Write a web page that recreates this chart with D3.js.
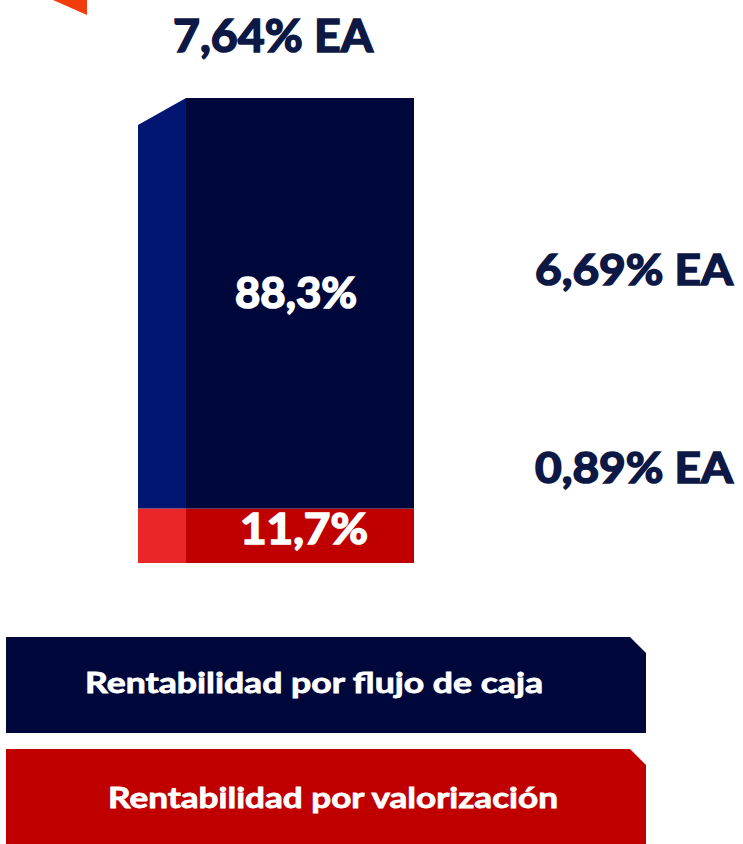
<!DOCTYPE html>
<html>
<head>
<meta charset="utf-8">
<script src="https://cdn.jsdelivr.net/npm/d3@7"></script>
<style>
  html, body { margin: 0; padding: 0; background: #ffffff; }
  svg { display: block; }
</style>
</head>
<body>
<svg id="chart" width="743" height="844"></svg>
<script>
// ---- data ----
const categories = ["Rentabilidad por flujo de caja", "Rentabilidad por valorización"];
const shares = [88.3, 11.7];            // % of total return
const shareLabels = ["88,3%", "11,7%"];
const rateLabels = ["6,69% EA", "0,89% EA"];
const totalLabel = "7,64% EA";
const barCategory = ["Total"];

// ---- styles ----
const frontColors = ["#00083b", "#c00000"];
const sideColors = ["#001670", "#ea2629"];
const textNavy = "#0d1845";
const fontNum = "Lato, 'Open Sans', sans-serif";

const svg = d3.select("#chart");

// scales
const y = d3.scaleLinear().domain([0, 100]).range([563, 98]);
const x = d3.scaleBand().domain(barCategory).range([186, 414]).padding(0);
const depth = 48, slant = 27;

// stack (bottom: valorización, top: flujo de caja)
const order = [1, 0];
let cum = 0;
const segs = order.map(i => {
  const s = { i, y0: cum, y1: cum + shares[i] };
  cum += shares[i];
  return s;
});

const g = svg.append("g");
const x0 = x(barCategory[0]), bw = x.bandwidth();

// side faces
segs.forEach(s => {
  const top = y(s.y1), bot = y(s.y0);
  const isTop = s.y1 >= 99.9;
  const pts = isTop
    ? [[x0 - depth, top + slant], [x0, top], [x0, bot], [x0 - depth, bot]]
    : [[x0 - depth, top], [x0, top], [x0, bot], [x0 - depth, bot]];
  g.append("polygon")
    .attr("points", pts.map(p => p.join(",")).join(" "))
    .attr("fill", sideColors[s.i]);
});

// front faces
g.selectAll("rect.front").data(segs).join("rect")
  .attr("class", "front")
  .attr("x", x0)
  .attr("width", bw)
  .attr("y", d => y(d.y1))
  .attr("height", d => y(d.y0) - y(d.y1))
  .attr("fill", d => frontColors[d.i]);

// share labels inside the bar
const shareBox = [[235, 357], [240, 368]];
g.selectAll("text.share").data(segs).join("text")
  .attr("class", "share")
  .attr("x", d => (shareBox[d.i][0] + shareBox[d.i][1]) / 2)
  .attr("y", d => y((d.y0 + d.y1) / 2) + (d.i === 0 ? 5 : 8))
  .attr("text-anchor", "middle")
  .attr("font-family", fontNum)
  .attr("font-weight", 700)
  .attr("font-size", 42)
  .attr("fill", "#ffffff")
  .attr("stroke", "#ffffff").attr("stroke-width", 1.6)
  .attr("textLength", d => shareBox[d.i][1] - shareBox[d.i][0])
  .attr("lengthAdjust", "spacingAndGlyphs")
  .text(d => shareLabels[d.i]);

// total label
svg.append("text")
  .attr("x", 173).attr("y", 52)
  .attr("font-family", fontNum).attr("font-weight", 700).attr("font-size", 45)
  .attr("fill", textNavy)
  .attr("stroke", textNavy).attr("stroke-width", 1.6)
  .attr("textLength", 200).attr("lengthAdjust", "spacingAndGlyphs")
  .text(totalLabel);

// rate labels on the right
const rateY = [285, 483];
svg.selectAll("text.rate").data(rateLabels).join("text")
  .attr("class", "rate")
  .attr("x", 535).attr("y", (d, i) => rateY[i])
  .attr("font-family", fontNum).attr("font-weight", 700).attr("font-size", 42)
  .attr("fill", textNavy)
  .attr("stroke", textNavy).attr("stroke-width", 1.6)
  .attr("textLength", 198).attr("lengthAdjust", "spacingAndGlyphs")
  .text(d => d);

// orange corner decoration
svg.append("polygon")
  .attr("points", "53,0 87,0 87,15")
  .attr("fill", "#f23c0c");

// legend boxes with cut corner
const legTop = [637, 749], legH = 96, legX = 6, legR = 646, cut = 16;
const legText = [[85, 543, 693], [108, 558, 808]];
categories.forEach((c, i) => {
  const t = legTop[i], b = t + legH;
  svg.append("polygon")
    .attr("points", [[legX, t], [legR - cut, t], [legR, t + cut], [legR, b], [legX, b]].map(p => p.join(",")).join(" "))
    .attr("fill", frontColors[i]);
  svg.append("text")
    .attr("x", legText[i][0]).attr("y", legText[i][2])
    .attr("font-family", fontNum).attr("font-weight", 700).attr("font-size", 29)
    .attr("fill", "#ffffff")
    .attr("stroke", "#ffffff").attr("stroke-width", 0.8)
    .attr("textLength", legText[i][1] - legText[i][0]).attr("lengthAdjust", "spacingAndGlyphs")
    .text(c);
});
</script>
</body>
</html>
